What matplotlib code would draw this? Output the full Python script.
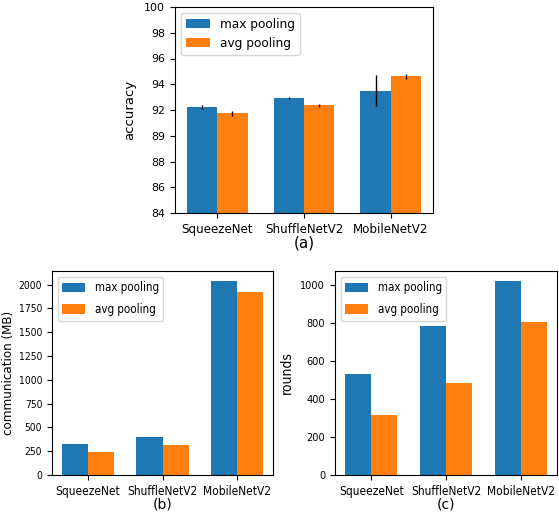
import numpy as np
import matplotlib.pyplot as plt

models = ['SqueezeNet', 'ShuffleNetV2', 'MobileNetV2']

acc_max = [92.21, 92.91, 93.48]
acc_avg = [91.74, 92.37, 94.62]
acc_max_err = [0.15, 0.08, 1.2]
acc_avg_err = [0.18, 0.13, 0.18]
acc_ticks = [84, 86, 88, 90, 92, 94, 96, 98, 100]
acc_ticklabels = ['84', '86', '88', '89', '92', '94', '96', '98', '100']

comm_max = [326, 400, 2042]
comm_avg = [242, 316, 1926]
comm_ticks = [0, 250, 500, 750, 1000, 1250, 1500, 1750, 2000]

rounds_max = [532, 784, 1021]
rounds_avg = [316, 484, 805]
rounds_ticks = [0, 200, 400, 600, 800, 1000]

W, H = 559, 512
fig = plt.figure(figsize=(W / 100, H / 100), dpi=100)

def px_axes(l, t, r, b):
    return fig.add_axes([l / W, 1 - b / H, (r - l) / W, (b - t) / H])

x = np.arange(len(models))
width = 0.35
blue, orange = '#1f77b4', '#ff7f0e'

def grouped(ax, a, b, ea=None, eb=None, xfs=8, yfs=7.5, lfs=8.5, lsp=0.5, hh=0.75,
            stretch='normal'):
    kw = dict(ecolor='black', capsize=0, error_kw=dict(elinewidth=1))
    ax.bar(x - width / 2, a, width, yerr=ea, color=blue, label='max pooling', **kw)
    ax.bar(x + width / 2, b, width, yerr=eb, color=orange, label='avg pooling', **kw)
    ax.set_xticks(x)
    ax.set_xticklabels(models, fontsize=xfs, fontstretch=stretch)
    ax.tick_params(axis='y', labelsize=yfs)
    for t in ax.get_yticklabels():
        t.set_fontstretch(stretch)
    ax.legend(prop=dict(size=lfs, stretch=stretch), loc='upper left',
              handlelength=2.0, handleheight=hh, handletextpad=0.8, labelspacing=lsp)

# (a) accuracy
ax1 = px_axes(175, 7, 433, 213)
grouped(ax1, acc_max, acc_avg, acc_max_err, acc_avg_err, xfs=8.6, yfs=7.9, lfs=8.7)
ax1.set_ylim(84, 100)
ax1.set_yticks(acc_ticks)
ax1.set_yticklabels(acc_ticklabels)
ax1.set_ylabel('accuracy', fontsize=9.5, labelpad=6)
ax1.set_xlabel('(a)', fontsize=11, labelpad=0)

# (b) communication
ax2 = px_axes(52, 271, 273, 475)
ax2.set_yticks(comm_ticks)
grouped(ax2, comm_max, comm_avg, xfs=8.6, yfs=7.4, lfs=8.3, lsp=0.75, hh=0.9,
        stretch='condensed')
ax2.set_ylabel('communication (MB)', fontsize=9.5, labelpad=3, fontstretch='condensed')
ax2.set_xlabel('(b)', fontsize=10, labelpad=0)

# (c) rounds
ax3 = px_axes(335, 271, 557, 475)
ax3.set_yticks(rounds_ticks)
grouped(ax3, rounds_max, rounds_avg, xfs=8.6, yfs=7.8, lfs=8.3, lsp=0.75, hh=0.9,
        stretch='condensed')
ax3.set_ylabel('rounds', fontsize=10, labelpad=5, fontstretch='condensed')
ax3.set_xlabel('(c)', fontsize=10, labelpad=0)

fig.savefig('out.png', dpi=100)
